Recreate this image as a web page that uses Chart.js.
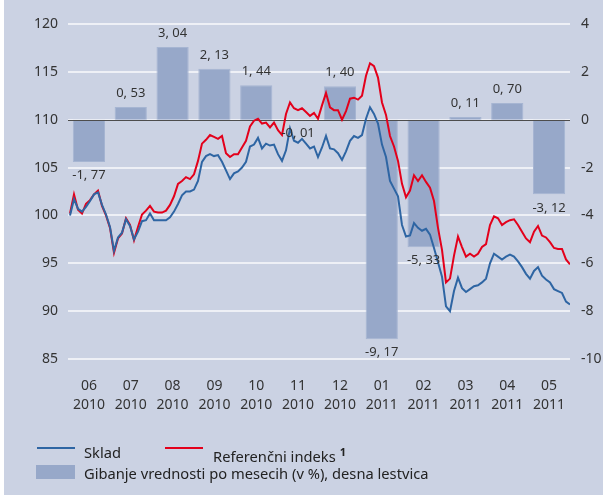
<!DOCTYPE html>
<html>
<head>
<meta charset="utf-8">
<script src="https://cdn.jsdelivr.net/npm/chart.js@4.4.1/dist/chart.umd.min.js"></script>
<style>
  body { margin: 0; background: #fff; }
  #wrap { position: relative; width: 603px; height: 495px; font-family: "Noto Sans", sans-serif; color: #222; }
  #bg { position: absolute; left: 4px; top: 0; width: 599px; height: 495px; background: #cbd2e3; }
  #chart { position: absolute; left: 0; top: 0; }
  .leg { position: absolute; font-size: 14.7px; line-height: 20px; white-space: nowrap; }
  .swatch { position: absolute; }
  sup { font-size: 11px; font-weight: bold; vertical-align: 6px; margin-left: 4px; }
</style>
</head>
<body>
<div id="wrap">
  <div id="bg"></div>
  <canvas id="chart" width="603" height="495"></canvas>
  <div class="swatch" style="left:37px;top:447px;width:38px;height:2px;background:#2e65a3"></div>
  <div class="leg" style="left:84px;top:442px">Sklad</div>
  <div class="swatch" style="left:165px;top:447px;width:38px;height:2px;background:#e3001b"></div>
  <div class="leg" style="left:213px;top:442px">Referenčni indeks<sup>1</sup></div>
  <div class="swatch" style="left:36px;top:465px;width:39px;height:14px;background:#97a8c9"></div>
  <div class="leg" style="left:84px;top:463px">Gibanje vrednosti po mesecih (v %), desna lestvica</div>
</div>
<script>
const months = [["06", "2010"], ["07", "2010"], ["08", "2010"], ["09", "2010"], ["10", "2010"], ["11", "2010"],
  ["12", "2010"], ["01", "2011"], ["02", "2011"], ["03", "2011"], ["04", "2011"], ["05", "2011"]];

// monthly change in %, right scale
const monthlyChange = [-1.77, 0.53, 3.04, 2.13, 1.44, -0.01, 1.40, -9.17, -5.33, 0.11, 0.70, -3.12];

// index values, roughly every second trading day, June 2010 - May 2011
const sklad = [
  100.0, 101.7, 100.7, 100.4, 100.9, 101.5, 102.2, 102.4, 101.1, 100.1,
  98.8, 96.3, 97.7, 98.2, 99.6, 98.9, 97.5, 98.3, 99.4, 99.5,
  100.2, 99.5, 99.5, 99.5, 99.5, 99.8, 100.4, 101.2, 102.1, 102.5,
  102.5, 102.7, 103.6, 105.6, 106.2, 106.4, 106.2, 106.3, 105.6, 104.7,
  103.8, 104.4, 104.6, 105.0, 105.6, 107.2, 107.4, 108.1, 107.0, 107.5,
  107.3, 107.4, 106.4, 105.7, 106.8, 109.1, 107.8, 107.6, 108.0, 107.5,
  107.0, 107.2, 106.1, 107.1, 108.3, 107.0, 106.9, 106.5, 105.8, 106.7,
  107.8, 108.3, 108.1, 108.4, 110.1, 111.3, 110.6, 109.6, 107.4, 106.1,
  103.6, 102.8, 102.0, 99.0, 97.8, 97.9, 99.2, 98.7, 98.4, 98.6,
  98.0, 96.6, 95.1, 93.6, 90.5, 90.0, 92.1, 93.5, 92.4, 92.0,
  92.3, 92.6, 92.7, 93.0, 93.4, 95.0, 96.0, 95.7, 95.4, 95.7,
  95.9, 95.7, 95.2, 94.6, 93.9, 93.4, 94.2, 94.6, 93.7, 93.3,
  93.0, 92.3, 92.1, 91.9, 91.0, 90.7
];

const referencniIndeks = [
  100.2, 102.2, 100.6, 100.2, 101.2, 101.6, 102.2, 102.6, 101.0, 100.0,
  98.7, 96.1, 97.6, 98.1, 99.7, 99.0, 97.4, 98.8, 100.1, 100.5,
  101.0, 100.4, 100.3, 100.3, 100.5, 101.1, 102.0, 103.3, 103.6, 104.0,
  103.8, 104.3, 105.7, 107.5, 107.9, 108.4, 108.2, 108.0, 108.3, 106.5,
  106.1, 106.4, 106.4, 107.1, 107.8, 109.3, 109.9, 110.1, 109.6, 109.7,
  109.2, 109.7, 108.9, 108.4, 110.6, 111.8, 111.2, 111.0, 111.2, 110.8,
  110.4, 110.7, 110.1, 111.5, 112.8, 111.3, 111.0, 111.0, 110.0, 110.9,
  112.2, 112.3, 112.1, 112.5, 114.6, 115.9, 115.6, 114.4, 111.8, 110.5,
  108.3, 107.2, 105.7, 103.3, 101.9, 102.6, 104.2, 103.6, 104.2, 103.5,
  102.9, 101.5, 98.7, 96.4, 93.0, 93.4, 95.8, 97.8, 96.7, 95.7,
  96.0, 95.7, 96.0, 96.7, 97.0, 99.0, 99.9, 99.7, 99.0, 99.3,
  99.5, 99.6, 99.0, 98.3, 97.6, 97.2, 98.3, 98.9, 97.9, 97.7,
  97.2, 96.6, 96.5, 96.5, 95.4, 94.9
];

const leftTicks = { min: 85, max: 120, step: 5 };
const rightTicks = { min: -10, max: 4, step: 2 };

const tickFont = { family: "Noto Sans", size: 14 };

const zeroLine = {
  id: "zeroLine",
  afterDatasetDraw(chart, args) {
    if (args.meta.type !== "bar") return;
    const { ctx, chartArea } = chart;
    const y = Math.round(chart.scales.y1.getPixelForValue(0)) + 0.5;
    ctx.save();
    ctx.strokeStyle = "#4d4d4d";
    ctx.lineWidth = 1.2;
    ctx.beginPath();
    ctx.moveTo(chartArea.left, y);
    ctx.lineTo(chartArea.right, y);
    ctx.stroke();
    ctx.restore();
  },
};

const barLabels = {
  id: "barLabels",
  afterDatasetsDraw(chart) {
    const meta = chart.getDatasetMeta(0);
    const ctx = chart.ctx;
    ctx.save();
    ctx.font = "13px 'Noto Sans'";
    ctx.fillStyle = "#333";
    ctx.textAlign = "center";
    meta.data.forEach((bar, i) => {
      const v = monthlyChange[i];
      const text = v.toFixed(2).replace(".", ", ");
      if (v >= 0) {
        ctx.textBaseline = "bottom";
        ctx.fillText(text, bar.x, bar.y - 7);
      } else {
        ctx.textBaseline = "top";
        ctx.fillText(text, bar.x, bar.y + 7);
      }
    });
    ctx.restore();
  },
};

const ctx = document.getElementById("chart").getContext("2d");

new Chart(ctx, {
  type: "bar",
  data: {
    labels: months,
    datasets: [
      {
        type: "bar",
        label: "Gibanje vrednosti po mesecih (v %), desna lestvica",
        data: monthlyChange,
        backgroundColor: "#97a8c9",
        borderColor: "#a6b5d2",
        borderWidth: 1,
        barPercentage: 0.77,
        categoryPercentage: 1,
        grouped: false,
        xAxisID: "x",
        yAxisID: "y1",
        order: 2,
      },
      {
        type: "line",
        label: "Referenčni indeks",
        data: referencniIndeks.map((v, i) => ({ x: i, y: v })),
        borderColor: "#e3001b",
        borderWidth: 2,
        pointRadius: 0,
        tension: 0,
        xAxisID: "xLine",
        yAxisID: "y",
        order: 1,
      },
      {
        type: "line",
        label: "Sklad",
        data: sklad.map((v, i) => ({ x: i, y: v })),
        borderColor: "#2e65a3",
        borderWidth: 2,
        pointRadius: 0,
        tension: 0,
        xAxisID: "xLine",
        yAxisID: "y",
        order: 0,
      },
    ],
  },
  options: {
    responsive: false,
    animation: false,
    layout: { padding: { top: 24, left: 0, right: 0, bottom: 76 } },
    plugins: {
      legend: { display: false },
      tooltip: { enabled: false },
    },
    scales: {
      x: {
        type: "category",
        offset: true,
        grid: { display: false, drawTicks: false, offset: true },
        border: { display: false },
        ticks: { color: "#333", font: { ...tickFont, lineHeight: 1.4 }, padding: 17, maxRotation: 0 },
        afterFit: (scale) => { scale.height = 60; },
      },
      xLine: {
        type: "linear",
        display: false,
        offset: false,
        min: -0.5,
        max: sklad.length - 1,
      },
      y: {
        position: "left",
        min: leftTicks.min,
        max: leftTicks.max,
        ticks: { stepSize: leftTicks.step, color: "#333", font: tickFont, padding: 10 },
        grid: { color: "#eef0f6", lineWidth: 2, drawTicks: false },
        border: { display: false },
        afterFit: (scale) => { scale.width = 68; },
      },
      y1: {
        position: "right",
        min: rightTicks.min,
        max: rightTicks.max,
        ticks: { stepSize: rightTicks.step, color: "#333", font: tickFont, padding: 11 },
        grid: { display: false, drawTicks: false },
        border: { display: false },
        afterFit: (scale) => { scale.width = 33; },
      },
    },
  },
  plugins: [zeroLine, barLabels],
});
</script>
</body>
</html>
